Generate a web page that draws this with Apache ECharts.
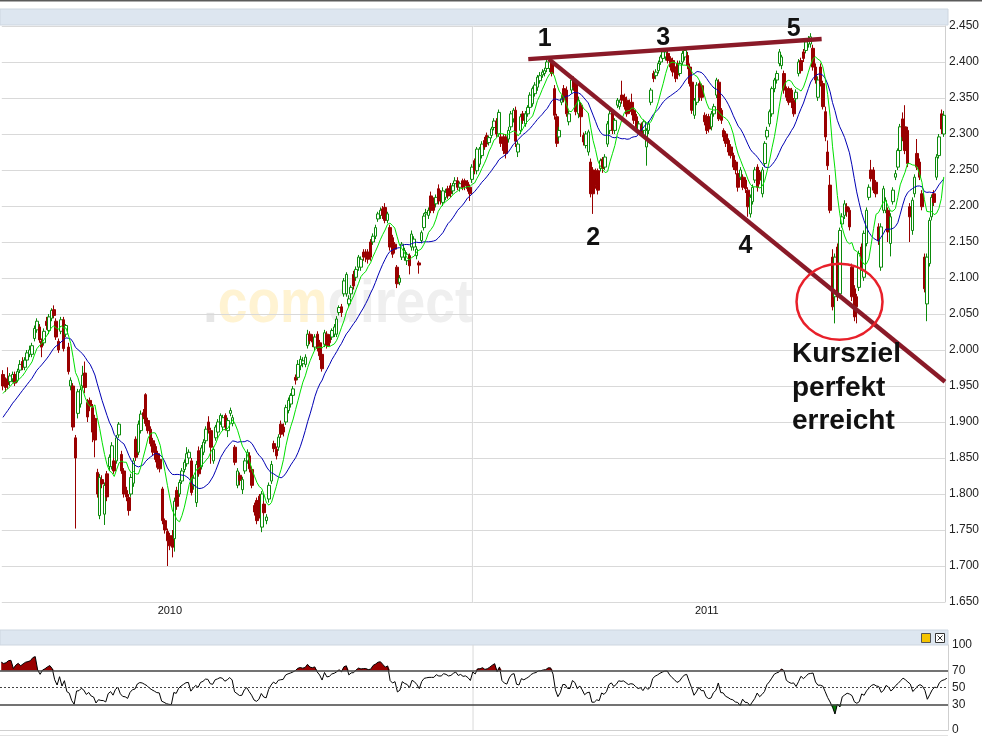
<!DOCTYPE html>
<html>
<head>
<meta charset="utf-8">
<script src="https://cdn.jsdelivr.net/npm/echarts@6/dist/echarts.min.js"></script>
<style>
  html, body { margin: 0; padding: 0; background: #ffffff; }
  #chart { width: 982px; height: 737px; }
</style>
</head>
<body>
<div id="chart"></div>
<script>
// Daily candles, oldest first: open / close / low / high
const openP = [
1966,1955,1960,1956,1960,1966,1958,1972,1984,1976,1986,1994,1994,2016,2028,2032,2012,2010,2040,2027,
2044,2056,2040,2012,2026,2042,2022,2004,1950,1950,1878,1912,1925,1950,1968,1927,1930,1920,1905,1830,
1770,1820,1772,1828,1838,1838,1846,1846,1882,1855,1832,1805,1795,1800,1815,1876,1858,1888,1913,1938,
1902,1890,1874,1866,1856,1848,1807,1763,1748,1742,1742,1738,1805,1800,1818,1834,1842,1850,1846,1812,
1788,1860,1838,1858,1874,1900,1888,1846,1878,1886,1900,1893,1909,1888,1912,1898,1865,1812,1826,1806,
1832,1846,1853,1834,1784,1791,1797,1754,1786,1763,1793,1818,1870,1862,1865,1897,1893,1900,1916,1925,
1937,1962,1962,1978,1981,1980,2006,2022,2018,2004,2022,2010,1994,2008,2022,2018,2018,2022,2022,2052,
2060,2078,2078,2064,2078,2105,2101,2115,2115,2136,2136,2136,2150,2150,2158,2182,2187,2196,2198,2180,
2170,2156,2147,2115,2094,2129,2129,2124,2131,2143,2143,2131,2121,2152,2170,2189,2187,2214,2207,2203,
2224,2217,2205,2212,2224,2228,2221,2231,2235,2226,2235,2235,2233,2226,2237,2263,2249,2258,2270,2291,
2298,2288,2298,2309,2318,2300,2296,2296,2296,2293,2310,2321,2333,2275,2305,2328,2314,2328,2337,2342,
2356,2365,2374,2382,2384,2391,2391,2400,2363,2324,2296,2344,2363,2361,2317,2361,2375,2370,2328,2340,
2298,2284,2275,2261,2250,2249,2249,2252,2265,2254,2286,2305,2330,2305,2340,2338,2354,2351,2347,2344,
2344,2333,2324,2305,2312,2305,2282,2305,2344,2384,2381,2388,2400,2405,2407,2412,2405,2402,2390,2398,
2384,2400,2407,2409,2393,2372,2326,2344,2370,2367,2326,2324,2324,2310,2328,2354,2372,2333,2305,2300,
2291,2282,2270,2261,2245,2240,2240,2236,2222,2189,2206,2236,2254,2247,2217,2259,2296,2314,2328,2363,
2375,2398,2395,2384,2363,2363,2361,2347,2349,2384,2402,2414,2416,2425,2425,2419,2393,2351,2393,2370,
2331,2275,2229,2129,2074,2143,2078,2175,2187,2199,2194,2115,2085,2074,2087,2143,2101,2148,2212,2250,
2250,2233,2171,2115,2194,2194,2194,2148,2206,2240,2254,2277,2321,2310,2305,2199,2166,2217,2273,2261,
2217,2129,2064,2120,2185,2217,2240,2270,2328,2300
];
const closeP = [
1950,1948,1952,1964,1966,1954,1970,1980,1976,1986,1996,2000,2006,2030,2040,2014,2004,2026,2034,2046,
2055,2048,2018,2000,2042,2002,2034,1970,1958,1893,1850,1942,1945,1965,1948,1907,1922,1886,1875,1800,
1823,1814,1812,1796,1851,1867,1832,1878,1897,1832,1800,1796,1777,1823,1846,1851,1897,1911,1908,1898,
1888,1870,1858,1848,1837,1835,1763,1750,1735,1728,1726,1790,1783,1816,1832,1844,1856,1858,1802,1822,
1841,1828,1864,1872,1890,1889,1865,1862,1893,1900,1909,1906,1893,1902,1916,1906,1844,1832,1819,1820,
1846,1858,1835,1812,1775,1763,1772,1800,1774,1768,1812,1841,1863,1853,1879,1883,1886,1920,1930,1937,
1946,1958,1980,1987,1985,1990,2022,2013,2011,2018,2002,1992,1974,2024,2006,2010,2027,2032,2043,2059,
2052,2096,2105,2071,2087,2089,2112,2129,2126,2129,2129,2126,2129,2158,2170,2189,2194,2187,2180,2189,
2143,2133,2140,2092,2100,2147,2138,2133,2117,2161,2154,2140,2118,2163,2186,2191,2194,2194,2194,2212,
2207,2207,2221,2219,2214,2217,2228,2235,2226,2231,2226,2228,2224,2217,2254,2249,2279,2279,2286,2282,
2286,2295,2307,2318,2300,2330,2287,2277,2273,2305,2328,2333,2290,2286,2324,2319,2328,2337,2354,2363,
2368,2379,2381,2386,2388,2400,2400,2384,2326,2287,2305,2349,2349,2328,2328,2375,2365,2331,2347,2324,
2289,2300,2303,2217,2217,2229,2222,2263,2252,2268,2314,2328,2305,2319,2347,2344,2347,2338,2328,2333,
2331,2319,2310,2314,2300,2317,2305,2314,2361,2377,2386,2398,2407,2414,2414,2402,2393,2386,2377,2382,
2398,2412,2416,2395,2370,2333,2347,2368,2351,2351,2317,2305,2307,2328,2338,2375,2321,2319,2296,2287,
2275,2270,2254,2250,2226,2250,2226,2224,2199,2212,2226,2250,2226,2236,2250,2287,2305,2331,2363,2375,
2384,2414,2407,2361,2351,2344,2347,2328,2358,2400,2388,2405,2428,2432,2435,2393,2375,2375,2370,2338,
2296,2256,2194,2060,2129,2074,2166,2185,2203,2192,2171,2074,2046,2060,2134,2115,2162,2194,2226,2238,
2222,2217,2152,2171,2224,2208,2164,2185,2222,2245,2277,2310,2296,2277,2259,2185,2208,2240,2254,2240,
2199,2085,2129,2180,2212,2205,2268,2296,2307,2326
];
const lowP = [
1944,1942,1946,1950,1955,1950,1955,1968,1972,1972,1982,1990,1990,2012,2024,2010,1990,2006,2028,2022,
2040,2044,2014,1996,2022,1998,2018,1966,1944,1888,1752,1905,1920,1946,1940,1900,1915,1872,1851,1795,
1765,1808,1757,1790,1832,1834,1828,1842,1878,1828,1795,1790,1770,1796,1810,1846,1854,1884,1904,1894,
1884,1866,1854,1844,1834,1830,1758,1745,1700,1722,1712,1720,1778,1796,1814,1830,1838,1846,1798,1806,
1782,1824,1834,1854,1870,1884,1842,1842,1874,1882,1896,1888,1888,1879,1908,1894,1840,1808,1812,1800,
1828,1842,1830,1808,1770,1758,1766,1747,1770,1758,1788,1814,1858,1848,1860,1878,1880,1896,1912,1920,
1932,1952,1958,1972,1976,1976,2002,2008,2004,2000,1998,1986,1970,2004,2002,2005,2014,2018,2018,2048,
2046,2074,2074,2060,2072,2084,2096,2110,2110,2124,2122,2120,2124,2146,2154,2178,2182,2182,2176,2176,
2138,2128,2134,2086,2090,2125,2124,2118,2105,2138,2138,2126,2106,2148,2166,2184,2182,2190,2190,2198,
2202,2202,2200,2208,2210,2212,2216,2226,2222,2220,2222,2222,2220,2207,2232,2244,2244,2254,2266,2278,
2282,2284,2294,2305,2296,2296,2282,2272,2266,2288,2305,2316,2282,2268,2300,2314,2310,2324,2332,2338,
2352,2360,2370,2378,2380,2386,2386,2380,2320,2282,2290,2340,2344,2324,2312,2356,2360,2326,2322,2296,
2284,2280,2270,2212,2189,2224,2216,2248,2246,2250,2282,2300,2300,2300,2336,2334,2342,2334,2324,2328,
2326,2314,2306,2300,2296,2300,2256,2300,2340,2372,2376,2384,2396,2400,2402,2398,2388,2380,2372,2376,
2380,2396,2402,2390,2366,2328,2321,2340,2346,2346,2312,2300,2302,2305,2324,2350,2318,2314,2290,2282,
2270,2266,2250,2244,2220,2236,2222,2218,2185,2184,2202,2232,2220,2230,2212,2254,2292,2310,2324,2358,
2370,2394,2390,2356,2346,2340,2336,2324,2344,2380,2384,2400,2412,2420,2420,2388,2370,2346,2366,2334,
2290,2250,2190,2055,2037,2068,2072,2170,2182,2185,2166,2068,2040,2037,2082,2110,2096,2144,2208,2234,
2218,2212,2146,2110,2190,2190,2150,2130,2202,2236,2250,2272,2290,2272,2254,2150,2160,2212,2250,2236,
2194,2080,2040,2116,2180,2200,2236,2266,2300,2296
];
const highP = [
1972,1962,1976,1968,1970,1970,1974,1986,1990,1990,2000,2006,2010,2034,2044,2036,2016,2030,2046,2050,
2058,2062,2044,2016,2046,2046,2036,2010,1962,1954,1882,1946,1950,1978,1984,1932,1934,1925,1910,1835,
1828,1826,1816,1832,1855,1872,1850,1882,1900,1860,1836,1810,1800,1828,1850,1880,1902,1916,1918,1940,
1906,1894,1878,1870,1860,1852,1810,1766,1752,1746,1750,1795,1810,1820,1836,1848,1865,1862,1850,1826,
1846,1866,1868,1876,1894,1908,1892,1866,1896,1904,1912,1910,1912,1906,1920,1910,1868,1836,1830,1824,
1850,1862,1858,1838,1788,1795,1800,1804,1790,1772,1816,1846,1874,1866,1883,1902,1898,1924,1934,1940,
1950,1966,1986,1992,1990,1994,2028,2026,2022,2022,2026,2014,1998,2028,2026,2022,2030,2036,2047,2062,
2064,2100,2108,2076,2090,2110,2116,2132,2130,2140,2140,2140,2154,2162,2174,2192,2198,2200,2204,2192,
2174,2160,2150,2118,2104,2150,2142,2136,2134,2166,2158,2144,2124,2166,2190,2196,2198,2220,2212,2216,
2230,2222,2226,2224,2228,2232,2232,2240,2240,2234,2238,2238,2236,2230,2258,2266,2282,2282,2290,2296,
2302,2298,2310,2322,2322,2334,2300,2300,2300,2310,2332,2336,2338,2290,2328,2332,2332,2340,2358,2366,
2372,2382,2386,2390,2392,2404,2406,2404,2368,2328,2310,2354,2368,2366,2332,2380,2380,2374,2352,2344,
2302,2304,2306,2266,2254,2252,2252,2266,2268,2272,2318,2332,2334,2322,2350,2348,2374,2356,2352,2348,
2356,2336,2328,2318,2316,2320,2308,2318,2364,2388,2390,2402,2410,2418,2418,2416,2408,2406,2394,2402,
2402,2416,2420,2414,2398,2376,2350,2372,2374,2370,2330,2328,2328,2332,2342,2378,2376,2336,2308,2304,
2294,2286,2274,2264,2250,2254,2244,2240,2226,2216,2230,2254,2258,2250,2254,2290,2310,2334,2366,2378,
2388,2418,2410,2388,2366,2366,2364,2350,2362,2404,2406,2418,2432,2436,2440,2424,2398,2380,2398,2374,
2338,2291,2243,2140,2134,2148,2170,2190,2208,2204,2198,2120,2090,2078,2138,2148,2166,2198,2230,2264,
2254,2236,2176,2176,2228,2212,2198,2190,2226,2250,2280,2314,2330,2340,2310,2204,2212,2244,2293,2266,
2222,2134,2134,2184,2216,2222,2272,2300,2334,2332
];
// Closes of the weeks just before the first candle (feed the averages and the RSI)
const leadCloses = [1830,1836,1841,1835,1846,1852,1848,1860,1866,1862,1874,1882,1890,1886,1900,1908,1914,1922,1918,1930,1938,1930,1944,1952,1955];

// Price axis and RSI scale
const priceMin = 1650, priceMax = 2450, priceStep = 50;
const rsiTickLabels = [0, 30, 50, 70, 100];
const rsiBands = { upper: 70, middle: 50, lower: 30 };
const fastPeriod = 8, slowPeriod = 20, rsiPeriod = 14;

// Year captions under the price panel, by candle index; the turn of the year sits between candles
const yearLabels = { 69: '2010', 291: '2011' };
const yearBoundary = 194.1;

// Drawn trend lines, in (candle index, price)
const resistanceLine = [[217.2, 2404], [338.5, 2432]];
const supportLine = [[225.7, 2404], [389.5, 1956]];
const targetZone = { index: 345.9, price: 2067, rx: 43, ry: 38 };
const waveMarks = [
  { text: '1', index: 224, price: 2432 },
  { text: '2', index: 244, price: 2155 },
  { text: '3', index: 273, price: 2433 },
  { text: '4', index: 307, price: 2144 },
  { text: '5', index: 327, price: 2446 }
];

const N = closeP.length;
const cats = closeP.map((_, i) => i);
const candles = closeP.map((c, i) => [openP[i], c, lowP[i], highP[i]]);
const allCloses = leadCloses.concat(closeP);

function sma(src, p) {
  return src.map((_, i) => {
    if (i < p - 1) return null;
    let s = 0;
    for (let k = i - p + 1; k <= i; k++) s += src[k];
    return +(s / p).toFixed(2);
  });
}
function wilderRsi(src, p) {
  const out = new Array(src.length).fill(null);
  let g = 0, l = 0;
  for (let i = 1; i <= p; i++) {
    const d = src[i] - src[i - 1];
    if (d > 0) g += d; else l -= d;
  }
  g /= p; l /= p;
  out[p] = l === 0 ? 100 : 100 - 100 / (1 + g / l);
  for (let i = p + 1; i < src.length; i++) {
    const d = src[i] - src[i - 1];
    g = (g * (p - 1) + Math.max(d, 0)) / p;
    l = (l * (p - 1) + Math.max(-d, 0)) / p;
    out[i] = l === 0 ? 100 : 100 - 100 / (1 + g / l);
  }
  return out;
}
const lead = leadCloses.length;
const fastMa = sma(allCloses, fastPeriod).slice(lead);
const slowMa = sma(allCloses, slowPeriod).slice(lead);
const rsi = wilderRsi(allCloses, rsiPeriod).slice(lead).map(v => +v.toFixed(2));
const rsiHigh = rsi.map(v => Math.max(v, rsiBands.upper));
const rsiLow = rsi.map(v => Math.min(v, rsiBands.lower));

const FONT = "'Liberation Sans', Arial, sans-serif";
const thousands = v => String(v).replace(/\B(?=(\d{3})+(?!\d))/g, '.');

const PLOT_W = 948;
const GRID_COLOR = '#d9d9d9';
const chart = echarts.init(document.getElementById('chart'), null, { renderer: 'canvas' });

const option = {
  animation: false,
  backgroundColor: '#ffffff',
  textStyle: { fontFamily: FONT },
  grid: [
    { left: 0, top: 26, width: PLOT_W, height: 576 },
    { left: 0, top: 645, width: PLOT_W, height: 85 }
  ],
  xAxis: [
    {
      type: 'category', gridIndex: 0, data: cats, boundaryGap: true,
      axisLine: { show: false, onZero: false }, axisTick: { show: false },
      axisLabel: {
        show: true, interval: 0, margin: 3, fontSize: 11, color: '#111', fontFamily: FONT,
        formatter: (v, idx) => yearLabels[idx] || ''
      },
      splitLine: { show: false }
    },
    {
      type: 'category', gridIndex: 1, data: cats, boundaryGap: true,
      axisLine: { show: true, onZero: false, lineStyle: { color: '#cfcfcf' } }, axisTick: { show: false }, axisLabel: { show: false },
      splitLine: { show: false }
    },
    { type: 'value', gridIndex: 0, min: -0.5, max: N - 0.5, show: false, axisLine: { onZero: false } },
    { type: 'value', gridIndex: 1, min: -0.5, max: N - 0.5, show: false, axisLine: { onZero: false } }
  ],
  yAxis: [
    {
      type: 'value', gridIndex: 0, position: 'right', min: priceMin, max: priceMax, interval: priceStep,
      axisLine: { show: true, onZero: false, lineStyle: { color: '#cfcfcf' } }, axisTick: { show: false },
      axisLabel: { margin: 4, fontSize: 12, color: '#222', fontFamily: FONT, formatter: v => thousands(v) },
      splitLine: { show: true, lineStyle: { color: GRID_COLOR, width: 1 } }
    },
    {
      type: 'value', gridIndex: 1, position: 'right', min: 0, max: 100, interval: 10,
      axisLine: { show: true, onZero: false, lineStyle: { color: '#cfcfcf' } }, axisTick: { show: false },
      axisLabel: { margin: 4, fontSize: 12, color: '#222', fontFamily: FONT,
        formatter: v => rsiTickLabels.indexOf(v) >= 0 ? String(v) : '' },
      splitLine: { show: false }
    }
  ],
  series: [
    {
      name: 'Jahreswechsel', type: 'line', xAxisIndex: 2, yAxisIndex: 0,
      data: [[yearBoundary, priceMin], [yearBoundary, priceMax]],
      symbol: 'none', lineStyle: { color: GRID_COLOR, width: 1 }, z: 1, silent: true
    },
    {
      name: 'Jahreswechsel RSI', type: 'line', xAxisIndex: 3, yAxisIndex: 1,
      data: [[yearBoundary, 0], [yearBoundary, 100]],
      symbol: 'none', lineStyle: { color: GRID_COLOR, width: 1 }, z: 1, silent: true
    },
    {
      name: 'Kurs', type: 'candlestick', xAxisIndex: 0, yAxisIndex: 0, data: candles,
      barWidth: 3,
      itemStyle: { color: '#ffffff', color0: '#990000', borderColor: '#0a8a0a', borderColor0: '#990000', borderWidth: 1 }
    },
    {
      name: 'GD 20', type: 'line', xAxisIndex: 0, yAxisIndex: 0, data: slowMa,
      symbol: 'none', lineStyle: { color: '#0000b4', width: 1 }, z: 3
    },
    {
      name: 'GD 8', type: 'line', xAxisIndex: 0, yAxisIndex: 0, data: fastMa,
      symbol: 'none', lineStyle: { color: '#00e000', width: 1 }, z: 3
    },
    {
      name: 'Widerstand', type: 'line', xAxisIndex: 2, yAxisIndex: 0, data: resistanceLine,
      symbol: 'none', lineStyle: { color: '#8a1a28', width: 4.5 }, z: 6, silent: true
    },
    {
      name: 'Unterstuetzung', type: 'line', xAxisIndex: 2, yAxisIndex: 0, data: supportLine,
      symbol: 'none', lineStyle: { color: '#8a1a28', width: 4.5 }, z: 6, silent: true
    },
    {
      name: 'RSI hoch', type: 'line', xAxisIndex: 1, yAxisIndex: 1, data: rsiHigh,
      symbol: 'none', lineStyle: { width: 0 }, areaStyle: { color: '#990000', opacity: 1, origin: rsiBands.upper }, z: 2
    },
    {
      name: 'RSI tief', type: 'line', xAxisIndex: 1, yAxisIndex: 1, data: rsiLow,
      symbol: 'none', lineStyle: { width: 0 }, areaStyle: { color: '#0a7a0a', opacity: 1, origin: rsiBands.lower }, z: 2
    },
    {
      name: 'RSI', type: 'line', xAxisIndex: 1, yAxisIndex: 1, data: rsi,
      symbol: 'none', lineStyle: { color: '#000000', width: 1 }, z: 4,
      markLine: {
        silent: true, symbol: 'none', label: { show: false },
        data: [
          { yAxis: rsiBands.upper, lineStyle: { color: '#444', width: 1.5, type: 'solid' } },
          { yAxis: rsiBands.middle, lineStyle: { color: '#444', width: 1, type: [2, 2] } },
          { yAxis: rsiBands.lower, lineStyle: { color: '#444', width: 1.5, type: 'solid' } }
        ]
      }
    }
  ]
};
chart.setOption(option);

// Panel chrome, watermark and the hand-drawn annotations
function px(index, price) {
  return chart.convertToPixel({ xAxisIndex: 2, yAxisIndex: 0 }, [index, price]);
}
const zoneC = px(targetZone.index, targetZone.price);
const graphics = [
  { type: 'rect', z: 0, shape: { x: 0, y: 0, width: 982, height: 1.5 }, style: { fill: '#5a5a5a' } },
  { type: 'rect', z: 0, shape: { x: 0, y: 9, width: PLOT_W, height: 16 }, style: { fill: '#dde6f0', stroke: '#cdd6e0', lineWidth: 1 } },
  { type: 'rect', z: 0, shape: { x: 0, y: 630, width: PLOT_W, height: 15 }, style: { fill: '#dde6f0', stroke: '#cdd6e0', lineWidth: 1 } },
  { type: 'rect', z: 5, shape: { x: 921.5, y: 633.5, width: 9, height: 9 }, style: { fill: '#f5c400', stroke: '#555', lineWidth: 1 } },
  { type: 'rect', z: 5, shape: { x: 935.5, y: 633.5, width: 9, height: 9 }, style: { fill: '#ffffff', stroke: '#333', lineWidth: 1 } },
  { type: 'line', z: 5, shape: { x1: 937.5, y1: 635.5, x2: 942.5, y2: 640.5 }, style: { stroke: '#333', lineWidth: 1 } },
  { type: 'line', z: 5, shape: { x1: 942.5, y1: 635.5, x2: 937.5, y2: 640.5 }, style: { stroke: '#333', lineWidth: 1 } },
  { type: 'rect', z: 0, shape: { x: 0, y: 735, width: PLOT_W, height: 1 }, style: { fill: '#e2e2e2' } },
  {
    type: 'text', z: -10, x: 203, y: 274, scaleX: 0.86,
    style: {
      text: '{d|.}{c|com}{g|direct}',
      rich: {
        d: { fontSize: 62, fontWeight: 'bold', fontFamily: FONT, fill: '#e6e6e6' },
        c: { fontSize: 62, fontWeight: 'bold', fontFamily: FONT, fill: '#fff3d2' },
        g: { fontSize: 62, fontWeight: 'bold', fontFamily: FONT, fill: '#efefef' }
      }
    }
  },
  {
    type: 'ellipse', z: 7,
    shape: { cx: zoneC[0], cy: zoneC[1], rx: targetZone.rx, ry: targetZone.ry },
    style: { fill: 'none', stroke: '#e8202a', lineWidth: 2.5 }
  },
  {
    type: 'text', z: 7, left: 792, top: 338,
    style: { text: 'Kursziel\nperfekt\nerreicht', fontSize: 28, fontWeight: 'bold', fontFamily: FONT, fill: '#111', lineHeight: 33.5 }
  }
];
waveMarks.forEach(m => {
  const p = px(m.index, m.price);
  graphics.push({
    type: 'text', z: 7, x: p[0], y: p[1],
    style: { text: m.text, fontSize: 25, fontWeight: 'bold', fontFamily: FONT, fill: '#111', align: 'center', verticalAlign: 'middle' }
  });
});
chart.setOption({ graphic: { elements: graphics } });
</script>
</body>
</html>
